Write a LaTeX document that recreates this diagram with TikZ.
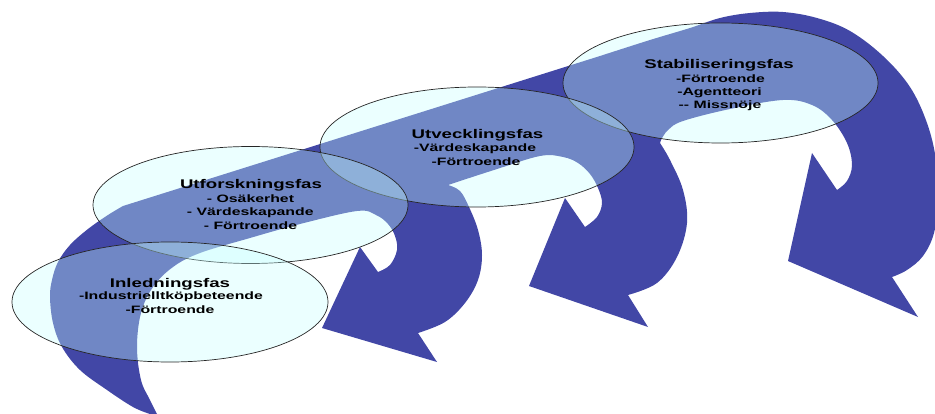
\documentclass[tikz,border=0pt]{standalone}
\usepackage{fontspec}
\usetikzlibrary{shapes.geometric}
\newfontfamily\phfont[FakeStretch=1.48]{Liberation Sans}
\definecolor{arrowblue}{RGB}{66,71,166}
\definecolor{phasecyan}{RGB}{198,255,255}
\tikzset{
  phase/.style={ellipse, draw=black!85, line width=0.7pt, fill=phasecyan,
    fill opacity=0.35, draw opacity=1, inner sep=0pt},
  ttl/.style={anchor=base, inner sep=0pt, font=\phfont\bfseries\fontsize{12.6}{14}\selectfont},
  itm/.style={anchor=base, inner sep=0pt, font=\phfont\bfseries\fontsize{10.7}{13}\selectfont},
}
\begin{document}
\begin{tikzpicture}[x=1pt,y=-1pt]
\useasboundingbox (0,0) rectangle (935,414);
% blue arrow band
\fill[arrowblue]
  plot[smooth, tension=0.6] coordinates {(150,414) (133,407) (107,390) (80,370) (62,347) (53,323) (50,297) (52,280) (58,262) (70,245) (88,229) (108,215) (123,206)}
  -- plot[smooth, tension=0.6] coordinates {(600,56) (650,40) (690,28) (720,18) (750,13) (783,12) (817,18) (850,31) (883,56) (910,87) (927,123) (936,160) (938,200) (934,233) (923,256) (907,270) (892,277)}
  -- (918,317) -- (788,261) -- (812,153) -- (837,190)
  -- plot[smooth, tension=0.6] coordinates {(837,190) (847,181) (852,165) (847,143) (832,120) (812,105) (783,100) (730,109) (683,121) (668,130) (661,140)}
  -- plot[smooth, tension=0.6] coordinates {(660,143) (670,160) (683,190) (687,223) (677,257) (657,283) (628,295)}
  -- (648,327) -- (529,286) -- (565,198) -- (585,227)
  -- plot[smooth, tension=0.6] coordinates {(585,227) (597,217) (602,203) (598,188) (590,174) (578,163) (563,157) (540,156) (494,170) (448,185)}
  -- plot[smooth, tension=0.6] coordinates {(448,185) (460,191) (469,207) (478,230) (482,255) (478,280) (465,303) (445,322) (418,333)}
  -- (437,362) -- (322,328) -- (360,247) -- (378,272)
  -- plot[smooth, tension=0.6] coordinates {(378,272) (390,265) (397,250) (395,236) (388,224) (376,215) (357,211) (300,224) (250,238) (200,253) (173,267) (153,287) (141,313) (137,347) (141,380) (150,400) (157,414)}
  -- cycle;
% phase ellipses
\node[phase, minimum width=315pt, minimum height=120pt] (e4) at (720.5,83) {};
\node[phase, minimum width=314pt, minimum height=120pt] (e3) at (477,147) {};
\node[phase, minimum width=315pt, minimum height=117pt] (e2) at (250.5,205) {};
\node[phase, minimum width=316pt, minimum height=120pt] (e1) at (170,302) {};
% texts
\node[ttl] (t1) at (170,287.3) {Inledningsfas};
\node[itm] (t1a) at (171,300) {-Industrielltköpbeteende};
\node[itm] (t1b) at (170,313.5) {-Förtroende};
\node[ttl] (t2) at (251,188.3) {Utforskningsfas};
\node[itm] (t2a) at (250.5,202.3) {- Osäkerhet};
\node[itm] (t2b) at (250.3,216) {- Värdeskapande};
\node[itm] (t2c) at (250.5,229.6) {- Förtroende};
\node[ttl] (t3) at (477.5,138.3) {Utvecklingsfas};
\node[itm] (t3a) at (475,151.8) {-Värdeskapande};
\node[itm] (t3b) at (476,165.5) {-Förtroende};
\node[ttl] (t4) at (719,68.3) {Stabiliseringsfas};
\node[itm] (t4a) at (720.5,82.5) {-Förtroende};
\node[itm] (t4b) at (719.5,95.5) {-Agentteori};
\node[itm] (t4c) at (720,109) {-{}- Missnöje};
\end{tikzpicture}
\end{document}
